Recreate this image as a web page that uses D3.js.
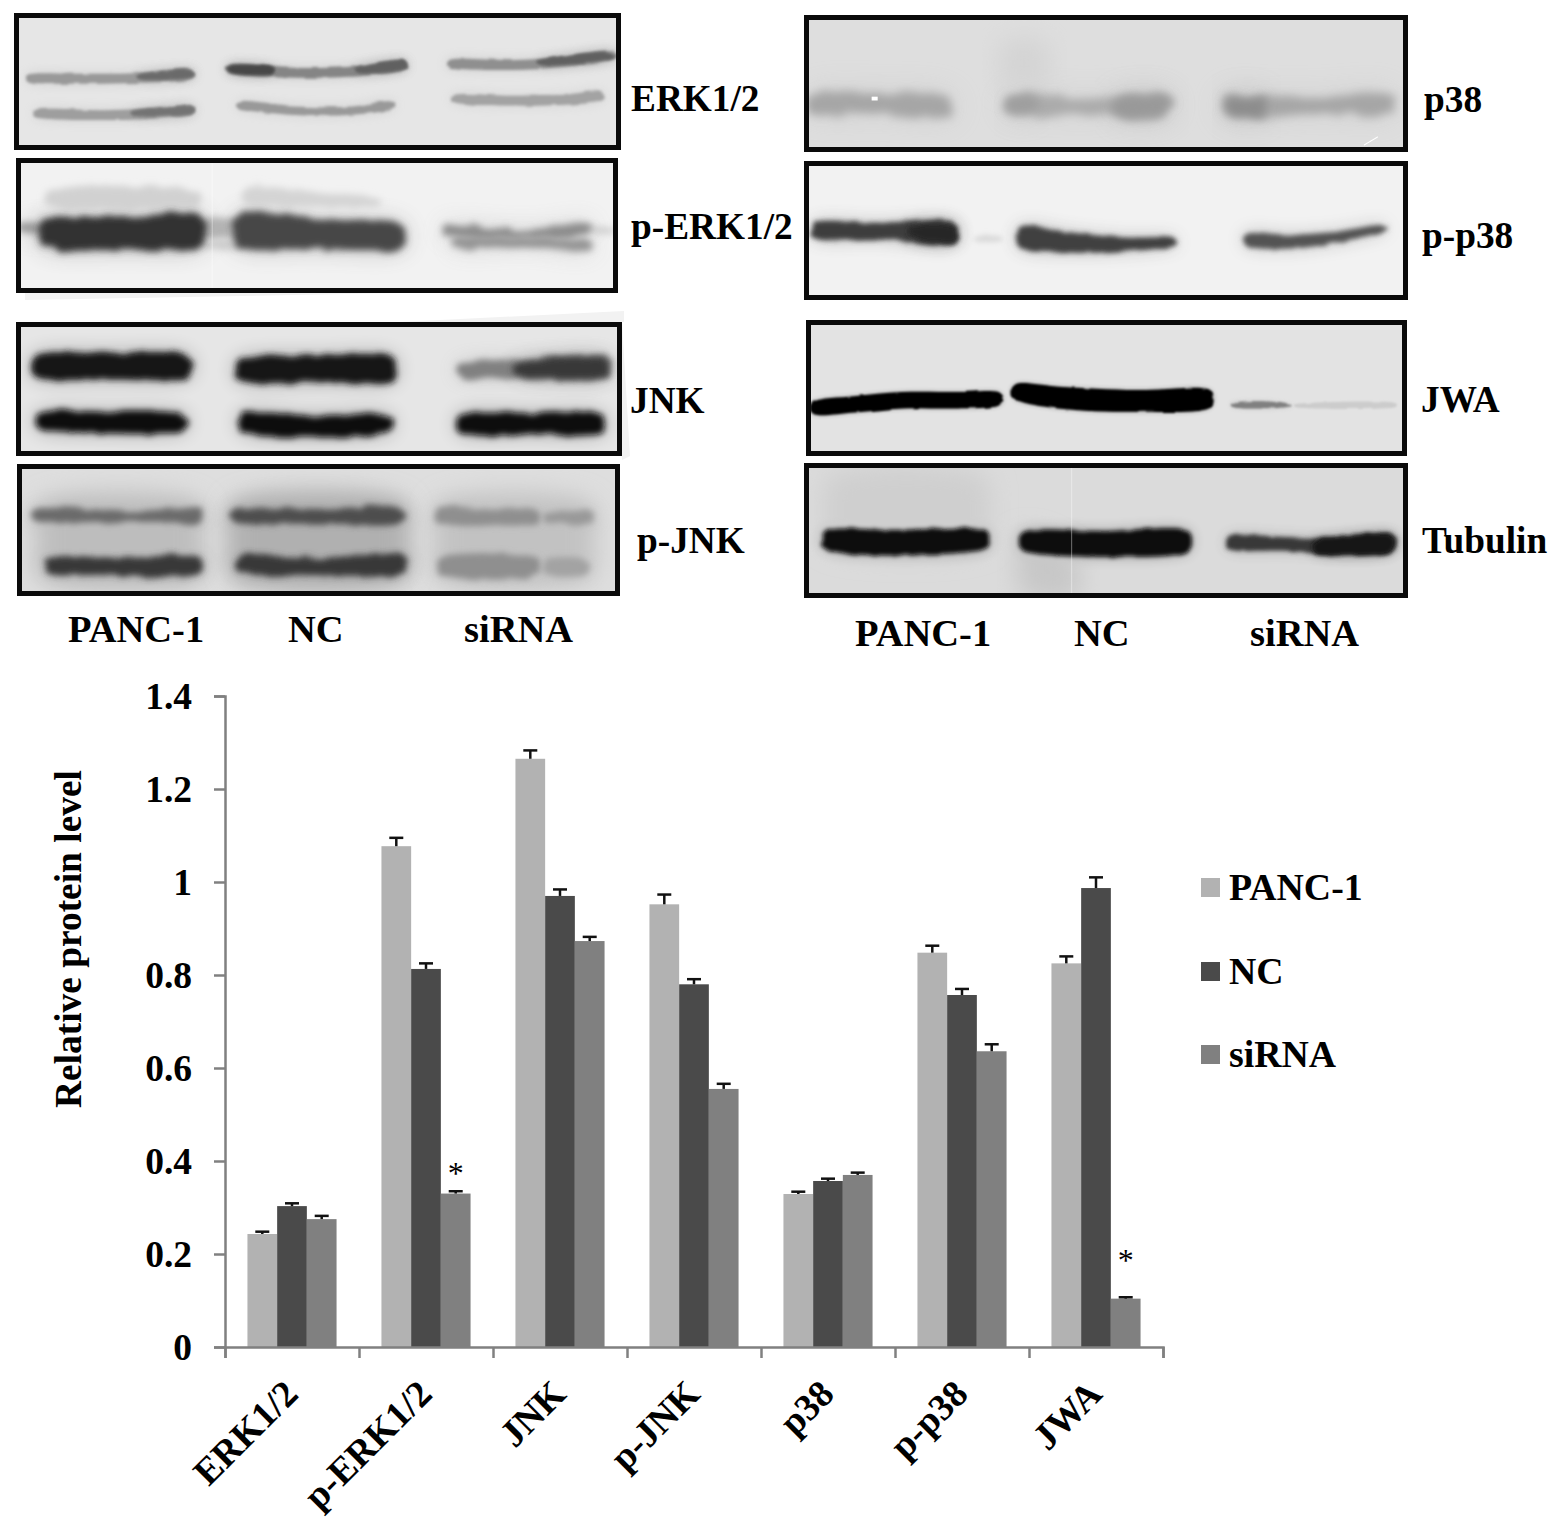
<!DOCTYPE html>
<html><head><meta charset="utf-8">
<script src="https://cdn.jsdelivr.net/npm/d3@7"></script>
<style>
html,body{margin:0;padding:0;background:#fff}
svg{display:block}
text{font-family:"Liberation Serif","Times New Roman",serif;font-weight:bold;fill:#000}
</style></head><body>
<svg id="fig" width="1559" height="1528"></svg>
<script>
// ---------- chart data ----------
const categories = ["ERK1/2","p-ERK1/2","JNK","p-JNK","p38","p-p38","JWA"];
const seriesNames = ["PANC-1","NC","siRNA"];
const panc1Values = [0.243,1.077,1.265,0.952,0.329,0.848,0.825];
const ncValues    = [0.303,0.813,0.970,0.780,0.357,0.757,0.987];
const sirnaValues = [0.275,0.330,0.873,0.555,0.370,0.636,0.104];
const panc1Errors = [0.005,0.018,0.018,0.021,0.005,0.015,0.015];
const ncErrors    = [0.006,0.012,0.014,0.011,0.005,0.013,0.023];
const sirnaErrors = [0.007,0.005,0.009,0.011,0.005,0.015,0.003];
const significant = [["p-ERK1/2","siRNA",0.378],["JWA","siRNA",0.191]];
const yTicks = [0,0.2,0.4,0.6,0.8,1,1.2,1.4];
const laneLabels = ["PANC-1","NC","siRNA"];

// ---------- blot data: points are [lane position %, migration %, half width %], density 0..1 ----------
const erkBands = [
 {d:.40,p:[[2.8,47.5,3],[10,48,3.6],[20,47.5,3.6],[29,45,3.6]]},{d:.58,p:[[21,46.5,2.2],[29,44.5,3]]},
 {d:.48,p:[[35.7,41,3.6],[45,43.5,3.6],[55,43,3.6],[64,38.5,3.6]]},{d:.72,p:[[36,41,3],[42,42,3]]},{d:.62,p:[[57,41.5,2.5],[64,38,3.5]]},
 {d:.44,p:[[72,37,3],[82,38,3.6],[90,36,3.6],[98.7,31,3.6]]},{d:.62,p:[[87,36,2.2],[98,31.5,3]]},
 {d:.38,p:[[4,73.4,3],[15,74.5,3.6],[25,73,3.6],[29,71,3.6]]},{d:.55,p:[[20,73,2.2],[29,71,3]]},
 {d:.40,p:[[37.4,67.5,2.6],[45,71,3],[55,71.5,3],[62,67.5,3]]},
 {d:.36,p:[[72.8,62.5,3],[82,64,3.6],[90,63.5,3.6],[96.5,61,3.6]]}];
const perkBands = [
 {d:.18,p:[[5.5,30,6],[30,30,6]]},{d:.17,p:[[38.5,28,7],[50,31,5],[60,33,3]]},
 {d:.40,p:[[1,52,3],[8,52,4]]},{d:.30,p:[[30,52,6],[38,52,6]]},{d:.20,p:[[31,64,3],[37,64,3]]},
 {d:.80,p:[[4.6,56,10],[18,56,12],[30.6,54,12]]},{d:.72,p:[[37,54,12],[50,56,11],[64,58,9]]},
 {d:.20,p:[[95,53,2],[100,54,2]]},
 {d:.45,p:[[71.5,54,4],[85,57,4],[95,52,4]]},{d:.42,p:[[73,63,3.5],[85,62,3],[95,65,4.5]]}];
const jnkBands = [
 {d:.93,p:[[3.3,33,8],[15,33,10],[28.3,33,8]]},{d:.90,p:[[37,36,8],[50,35,10],[62,35,9]]},
 {d:.50,p:[[73.5,36,5],[82,35,7],[97.4,34,8]]},{d:.78,p:[[83,35,4.5],[97,34,7]]},
 {d:.95,p:[[4,74,6],[15,75,8],[27.5,75,6]]},{d:.95,p:[[37.5,75,7],[48,78,8],[61.4,76,6]]},
 {d:.95,p:[[73.5,76,7],[85,76,8],[96.5,76,7]]}];
const pjnkBands = [
 {d:.26,p:[[4,58,28],[30,58,28]]},{d:.31,p:[[36,58,28],[64,58,28]]},{d:.24,p:[[70,58,28],[95,58,28]]},
 {d:.58,p:[[3,39,4],[8,39,6],[18,40,4],[25,39,5],[30,39,6]]},{d:.70,p:[[36,39,5],[50,40,6],[63.5,39,6]]},
 {d:.44,p:[[70,39,6],[82,40,5],[86,40,5]]},{d:.40,p:[[88,40,4],[95,40,5]]},
 {d:.78,p:[[5.5,77,6],[18,78,7],[30,77,7]]},{d:.78,p:[[37,76,6],[50,78,7],[64,76,7]]},
 {d:.44,p:[[70.5,77,7],[86,78,7]]},{d:.36,p:[[88,78,6],[94,78,6]]}];
const p38Bands = [
 {d:.17,p:[[33,35,16],[40,35,16]]},
 {d:.35,p:[[1.3,65,7],[12,64,7],[24,67,7]]},{d:.33,p:[[34,65,7],[47,67,6],[60,66,8]]},
 {d:.38,p:[[34,65,5],[38,65,5]]},{d:.40,p:[[52,67,6],[60,66,6]]},
 {d:.35,p:[[70,66,8],[76,67,7],[85,66,6],[97,65,7]]},{d:.45,p:[[70.5,67,6],[76,67,6]]},
 {d:0,p:[[11.2,61,1.4],[12.2,61,1.4]]},{d:0,p:[[92.7,95,.5],[95,89,.5]]}];
const pp38Bands = [
 {d:.15,p:[[29,56,2],[32,56,2]]},
 {d:.76,p:[[2,50,6],[12,50.5,6],[24.7,52,8]]},{d:.85,p:[[18,51,5],[24.7,52,6]]},
 {d:.75,p:[[36,55,8],[45,59,7],[53,60,5],[61,58.5,3]]},
 {d:.68,p:[[73.5,56.5,5],[80,58,5],[88,55,4],[95.7,48.7,2.5]]}];
const jwaBands = [
 {d:1,p:[[1.5,64.5,5],[8,62,6],[16,59,6],[25,59,6],[32,58,5]]},
 {d:1,p:[[35,53,6],[42,57,8],[55,59.5,8],[67,58,7]]},
 {d:.50,p:[[71.5,62.5,2],[77,62.5,2.5],[80,63,1]]},{d:.20,p:[[82,63,1.5],[97.5,62.5,2]]}];
const tubulinBands = [
 {d:.19,p:[[4,35,25],[30,35,25]]},{d:.22,p:[[36,75,22],[45,85,15]]},
 {d:.97,p:[[3.8,57,7],[15,59,9.5],[30,57,7]]},{d:.97,p:[[36.4,58,7],[50,60,9.5],[63.4,58,8]]},
 {d:.78,p:[[70.7,59,5],[80,60,5],[90,62,6],[97.3,59,7]]},{d:.90,p:[[85,62,5],[97,59.5,6]]}];
const blotNames = ["ERK1/2","p-ERK1/2","JNK","p-JNK","p38","p-p38","JWA","Tubulin"];
const blotBands = [erkBands,perkBands,jnkBands,pjnkBands,p38Bands,pp38Bands,jwaBands,tubulinBands];
const blotBackground = [.10,.05,.10,.13,.13,.05,.11,.14];

// ---------- layout & style ----------
const blotBoxes = [[14,13,621,150],[16,158,618,293],[16,322,622,456],[17,464,620,596],
                   [804,15,1408,152],[804,161,1408,300],[806,320,1407,456],[804,463,1408,598]];
const blotSoftness = [1.8,3.6,3,3.2,5,2.6,.9,2];
const blotLabelPos = [[631,111],[631,239],[630,413],[637,553],[1424,112],[1422,248],[1421,412],[1422,553]];
const laneLabelRows = [{y:642,x:[68,288,464]},{y:646,x:[855,1074,1250]}];
const scanEdges = [[[25,293],[400,293],[25,300]],[[400,322],[624,311],[624,322]],[[622,322],[630,456],[622,460]]];
const scratches = [[7,44.3],[1,32.6]];
const barColors = ["#b2b2b2","#4a4a4a","#808080"];
const legendY = [888,972,1055];
const axisColor = "#808080";

const svg = d3.select("#fig");
const defs = svg.append("defs");
const grey = d3.scaleLinear().domain([0,1]).range([255,0]);
const toGrey = d => { const v = Math.round(grey(d)); return `rgb(${v},${v},${v})`; };

function blurFilter(id, sd, warp){
  const f = defs.append("filter").attr("id",id).attr("x","-30%").attr("y","-300%").attr("width","160%").attr("height","700%");
  f.append("feTurbulence").attr("type","fractalNoise").attr("baseFrequency","0.05 0.14").attr("numOctaves",2).attr("seed",4).attr("result","n");
  f.append("feDisplacementMap").attr("in","SourceGraphic").attr("in2","n").attr("scale",warp).attr("xChannelSelector","R").attr("yChannelSelector","G").attr("result","w");
  f.append("feGaussianBlur").attr("in","w").attr("stdDeviation",sd);
}
svg.append("g").selectAll("path").data(scanEdges).join("path").attr("d",d=>d3.line()(d)+"Z").attr("fill","#f2f2f2");

blotNames.forEach((name,i)=>{
  const [x0,y0,x1,y1] = blotBoxes[i];
  const soft = blotSoftness[i];
  const sx = d3.scaleLinear().domain([0,100]).range([x0,x1]);
  const sy = d3.scaleLinear().domain([0,100]).range([y0,y1]);
  blurFilter(`b${i}`,soft,Math.max(soft*2.2,3)); blurFilter(`h${i}`,soft*3.2,0); blurFilter(`z${i}`,12,0);
  defs.append("clipPath").attr("id",`c${i}`).append("rect")
    .attr("x",x0).attr("y",y0).attr("width",x1-x0).attr("height",y1-y0);
  const g = svg.append("g").attr("class","blot").attr("clip-path",`url(#c${i})`);
  g.append("rect").attr("x",x0).attr("y",y0).attr("width",x1-x0).attr("height",y1-y0).attr("fill",toGrey(blotBackground[i]));
  const area = d3.area().x(d=>sx(d[0])).y0(d=>sy(d[1]-d[2])).y1(d=>sy(d[1]+d[2])).curve(d3.curveCatmullRom);
  const shape = b => {
    if (!b.d) return area(b.p);
    const a = b.p[0], z = b.p[b.p.length-1];
    return area([[a[0]-.8,a[1],a[2]*.4],...b.p,[z[0]+.8,z[1],z[2]*.4]]);
  };
  const isHaze = b => b.p[0][2] >= 15;
  const bands = blotBands[i];
  g.selectAll(".halo").data(bands.filter(b=>b.d>.3)).join("path").attr("class","halo")
    .attr("d",shape).attr("fill",b=>toGrey(b.d)).attr("opacity",.3).attr("filter",`url(#h${i})`);
  g.selectAll(".band").data(bands).join("path").attr("class","band")
    .attr("d",shape).attr("fill",b=>toGrey(b.d)).attr("filter",b=>!b.d?null:isHaze(b)?`url(#z${i})`:`url(#b${i})`);
  g.selectAll(".scratch").data(scratches.filter(s=>s[0]===i)).join("line").attr("class","scratch")
    .attr("x1",s=>sx(s[1])).attr("x2",s=>sx(s[1])).attr("y1",y0).attr("y2",y1)
    .attr("stroke","#fff").attr("stroke-width",1.2).attr("opacity",.35);
  svg.append("rect").attr("x",x0+2.5).attr("y",y0+2.5).attr("width",x1-x0-5).attr("height",y1-y0-5)
    .attr("fill","none").attr("stroke","#0a0a0a").attr("stroke-width",5);
  svg.append("text").attr("x",blotLabelPos[i][0]).attr("y",blotLabelPos[i][1]).attr("font-size",37.3).text(name);
});
laneLabelRows.forEach(r=>{
  svg.selectAll(null).data(laneLabels).join("text").attr("x",(d,i)=>r.x[i]).attr("y",r.y).attr("font-size",38.5).text(d=>d);
});

// ---------- bar chart ----------
const plot = {left:225, right:1163, top:696, bottom:1347};
const y = d3.scaleLinear().domain([0,1.4]).range([plot.bottom,plot.top]);
const x = d3.scaleBand().domain(categories).range([plot.left,plot.right]).paddingInner(.335).paddingOuter(.1675);
const xIn = d3.scaleBand().domain(seriesNames).range([0,x.bandwidth()]);
const xEdge = d3.scaleLinear().domain([0,categories.length]).range([plot.left,plot.right]);

const allValues = [panc1Values,ncValues,sirnaValues];
const allErrors = [panc1Errors,ncErrors,sirnaErrors];
const rows = seriesNames.flatMap((s,si)=>categories.map((c,ci)=>({s,si,c,v:allValues[si][ci],e:allErrors[si][ci]})));

svg.append("g").selectAll("rect").data(rows).join("rect")
  .attr("x",d=>x(d.c)+xIn(d.s)).attr("width",xIn.bandwidth())
  .attr("y",d=>y(d.v)).attr("height",d=>y(0)-y(d.v)).attr("fill",d=>barColors[d.si]);

const err = svg.append("g").attr("stroke","#111").attr("stroke-width",2.5);
err.selectAll(".stem").data(rows).join("line").attr("class","stem")
  .attr("x1",d=>x(d.c)+xIn(d.s)+xIn.bandwidth()/2).attr("x2",d=>x(d.c)+xIn(d.s)+xIn.bandwidth()/2)
  .attr("y1",d=>y(d.v)).attr("y2",d=>y(d.v+d.e));
err.selectAll(".cap").data(rows).join("line").attr("class","cap")
  .attr("x1",d=>x(d.c)+xIn(d.s)+xIn.bandwidth()/2-7).attr("x2",d=>x(d.c)+xIn(d.s)+xIn.bandwidth()/2+7)
  .attr("y1",d=>y(d.v+d.e)).attr("y2",d=>y(d.v+d.e));

svg.append("g").selectAll("text").data(significant).join("text")
  .attr("x",d=>x(d[0])+xIn(d[1])+xIn.bandwidth()/2)
  .attr("y",d=>y(d[2])+13)
  .attr("text-anchor","middle").attr("font-size",32).style("font-weight","normal").text("*");

const yAxis = svg.append("g").attr("transform",`translate(${plot.left},0)`)
  .call(d3.axisLeft(y).tickValues(yTicks).tickSize(11).tickPadding(22).tickFormat(d3.format("~g")));
yAxis.selectAll("text").attr("font-size",37.5).attr("font-family",null).attr("fill","#000");
yAxis.selectAll("line,path").attr("stroke",axisColor).attr("stroke-width",2.5);

const xTickG = svg.append("g").attr("transform",`translate(0,${plot.bottom})`)
  .call(d3.axisBottom(xEdge).tickValues(d3.range(categories.length+1)).tickSize(11).tickFormat(""));
xTickG.selectAll("line,path").attr("stroke",axisColor).attr("stroke-width",2.5);

const xAxis = svg.append("g").attr("transform",`translate(0,${plot.bottom})`)
  .call(d3.axisBottom(x).tickSize(0).tickPadding(0));
xAxis.select("path").remove();
xAxis.selectAll("text").attr("font-size",37.5).attr("font-family",null).attr("fill","#000")
  .attr("text-anchor","end").attr("dy",0).attr("y",0)
  .attr("transform","translate(8,49) rotate(-45)");

svg.append("text").attr("transform","translate(81,939) rotate(-90)").attr("text-anchor","middle")
  .attr("font-size",37.4).text("Relative protein level");

const legend = svg.append("g");
legend.selectAll("rect").data(seriesNames).join("rect")
  .attr("x",1201).attr("width",19).attr("height",19).attr("y",(d,i)=>legendY[i]-10).attr("fill",(d,i)=>barColors[i]);
legend.selectAll("text").data(seriesNames).join("text")
  .attr("x",1229).attr("y",(d,i)=>legendY[i]+12).attr("font-size",37.8).text(d=>d);
</script>
</body></html>
